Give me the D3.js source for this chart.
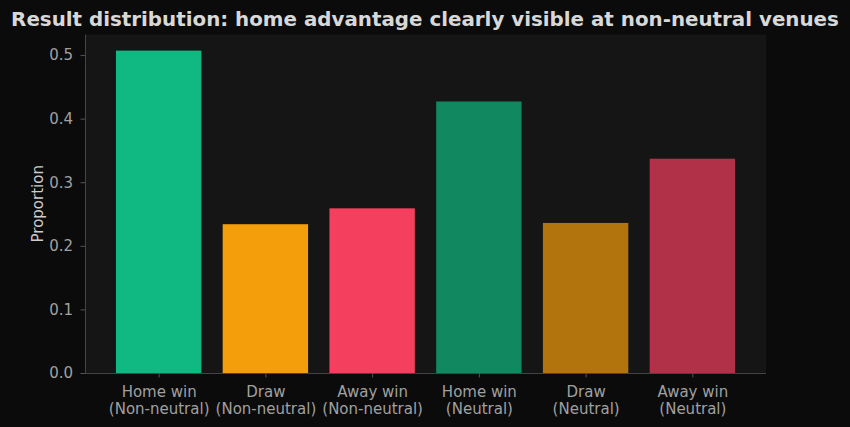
<!DOCTYPE html>
<html><head><meta charset="utf-8">
<script src="https://cdn.jsdelivr.net/npm/d3@7/dist/d3.min.js"></script>
<style>
html,body{margin:0;padding:0;background:#0b0b0b;}
svg{display:block;font-family:"DejaVu Sans",sans-serif;}
</style></head><body>
<svg id="chart" width="850" height="427"></svg>
<script>
const titleText = "Result distribution: home advantage clearly visible at non-neutral venues";
const categories = [["Home win","(Non-neutral)"],["Draw","(Non-neutral)"],["Away win","(Non-neutral)"],["Home win","(Neutral)"],["Draw","(Neutral)"],["Away win","(Neutral)"]];
const proportions = [0.507, 0.234, 0.259, 0.427, 0.236, 0.337];
const barColors = ["#10b981","#f59e0b","#f43f5e","#128860","#b2750e","#b13248"];
const yTicks = [0.0,0.1,0.2,0.3,0.4,0.5];

const svg = d3.select("#chart");
const W = 850, H = 427;
const m = {left:85, right:766, top:34.5, bottom:373};

svg.append("rect").attr("width",W).attr("height",H).attr("fill","#0b0b0b");
svg.append("rect").attr("x",m.left).attr("y",m.top).attr("width",m.right-m.left).attr("height",m.bottom-m.top).attr("fill","#151515");

const n = proportions.length;
const x = d3.scaleLinear().domain([-0.4-0.29, n-1+0.4+0.29]).range([m.left,m.right]);
const ymax = d3.max(proportions)*1.05;
const y = d3.scaleLinear().domain([0, ymax]).range([m.bottom, m.top]);

svg.append("g").selectAll("rect").data(proportions).join("rect")
  .attr("x",(d,i)=>x(i-0.4)).attr("width",(d,i)=>x(i+0.4)-x(i-0.4))
  .attr("y",d=>y(d)).attr("height",d=>y(0)-y(d))
  .attr("fill",(d,i)=>barColors[i]);

// y axis
const yAxis = d3.axisLeft(y).tickValues(yTicks).tickFormat(d3.format(".1f")).tickSize(4.5).tickPadding(7.5);
const gy = svg.append("g").attr("transform",`translate(${m.left},0)`).call(yAxis);
gy.select(".domain").attr("stroke","#444").attr("d",`M0.5,${m.bottom}V${m.top}`);
gy.selectAll(".tick line").attr("stroke","#555");
gy.selectAll(".tick text").attr("fill","#a0a0a0").attr("font-size","15px").attr("font-family","DejaVu Sans");

// x axis
const xAxis = d3.axisBottom(x).tickValues(d3.range(n)).tickFormat("").tickSize(4.5);
const gx = svg.append("g").attr("transform",`translate(0,${m.bottom})`).call(xAxis);
gx.select(".domain").attr("stroke","#444").attr("d",`M${m.left},0.5H${m.right}`);
gx.selectAll(".tick line").attr("stroke","#555");
gx.selectAll(".tick").each(function(d,i){
  const t = d3.select(this).append("text").attr("fill","#a0a0a0").attr("font-size","15px")
    .attr("font-family","DejaVu Sans").attr("text-anchor","middle");
  t.append("tspan").attr("x",0).attr("y",24).text(categories[i][0]);
  t.append("tspan").attr("x",0).attr("y",40.5).text(categories[i][1]);
});

// y label
svg.append("text").attr("transform",`translate(43,${(m.top+m.bottom)/2}) rotate(-90)`)
  .attr("text-anchor","middle").attr("fill","#cccccc").attr("font-size","15px").text("Proportion");

// title
svg.append("text").attr("x",425).attr("y",26).attr("text-anchor","middle")
  .attr("fill","#d8d8d8").attr("font-size","19.85px").attr("font-weight","bold").text(titleText);
</script>
</body></html>
